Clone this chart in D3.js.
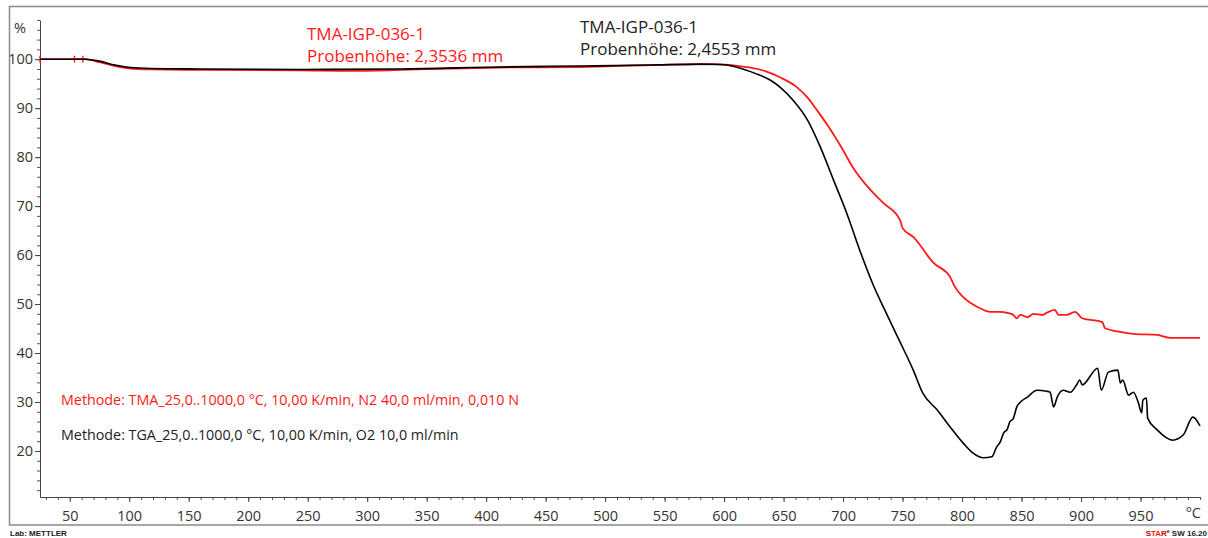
<!DOCTYPE html>
<html>
<head>
<meta charset="utf-8">
<script src="https://cdn.jsdelivr.net/npm/d3@7"></script>
<style>
  body { margin: 0; background: #fff; }
  svg { display: block; font-family: "Open Sans", "Noto Sans", sans-serif; }
</style>
</head>
<body>
<div id="chart"></div>
<script>
// TMA curve (red), temperature in °C, value in %
var redTemp = [25, 63, 75, 88, 101, 118, 160, 244, 286, 328, 370, 412, 479, 538, 591, 619, 634, 647, 660, 670, 678, 687, 700, 708, 723, 734, 748, 750, 759, 776, 790, 794, 801, 813, 824, 832, 838, 843, 846, 849, 855, 860, 868, 871, 878, 881, 888, 895, 901, 918, 920, 933, 944, 964, 975, 1000];
var redVal  = [100, 100, 99.4, 98.6, 98.1, 97.9, 97.8, 97.7, 97.6, 97.8, 98.1, 98.3, 98.4, 98.8, 99.0, 98.4, 97.6, 96.3, 94.5, 92.2, 89.6, 86.5, 81.4, 78.0, 73.3, 70.6, 67.1, 65.5, 63.7, 58.4, 55.5, 53.5, 51.4, 49.4, 48.4, 48.4, 48.2, 47.8, 47.1, 47.8, 47.3, 48.0, 47.8, 48.2, 48.8, 47.8, 47.8, 48.4, 47.1, 46.3, 45.1, 44.3, 43.9, 43.7, 43.1, 43.1];

// TGA curve (black)
var blackTemp = [25, 63, 75, 88, 101, 118, 160, 244, 328, 412, 479, 538, 580, 597, 613, 626, 639, 647, 658, 670, 681, 692, 703, 714, 725, 735, 745, 759, 767, 779, 790, 801, 809, 818, 825, 829, 832, 835, 838, 840, 843, 846, 850, 855, 863, 871, 874, 877, 880, 885, 891, 896, 899, 901, 914, 917, 923, 931, 933, 935, 940, 944, 948, 951, 952, 955, 956, 964, 977, 986, 994, 1000];
var blackVal  = [100, 100, 99.6, 98.8, 98.3, 98.1, 98.0, 97.9, 98.0, 98.4, 98.6, 98.8, 99.0, 98.9, 98.2, 97.1, 95.7, 94.3, 91.6, 87.6, 82.0, 75.3, 68.6, 61.0, 54.1, 48.8, 43.7, 36.5, 31.8, 28.4, 24.9, 21.6, 19.6, 18.6, 18.8, 20.8, 21.8, 23.7, 24.4, 25.9, 26.6, 29.0, 30.2, 31.0, 32.4, 32.2, 32.0, 29.0, 31.0, 32.4, 32.0, 33.4, 34.5, 33.5, 36.9, 32.4, 36.1, 36.5, 33.9, 34.5, 31.4, 32.0, 30.0, 27.8, 30.4, 30.8, 26.7, 24.3, 22.2, 23.3, 26.9, 25.1];

// small red marks at the start of the TMA curve
var markTemp = [25, 54, 61];

var xMajor = d3.range(50, 1000, 50);
var xMinor = d3.range(30, 1001, 10);
var yMajor = d3.range(20, 101, 10);
var yMinor = d3.range(12, 109, 2);

var redText = ["TMA-IGP-036-1", "Probenhöhe: 2,3536 mm"];
var blackText = ["TMA-IGP-036-1", "Probenhöhe: 2,4553 mm"];
var redMethod = "Methode: TMA_25,0..1000,0 °C, 10,00 K/min, N2 40,0 ml/min, 0,010 N";
var blackMethod = "Methode: TGA_25,0..1000,0 °C, 10,00 K/min, O2 10,0 ml/min";

var W = 1208, H = 538;
var red = "#ff1a1a", ink = "#333";

var svg = d3.select("#chart").append("svg")
            .attr("width", W)
            .attr("height", H);

// outer frame
svg.append("rect")
   .attr("x", 9.5).attr("y", 6.5)
   .attr("width", 1210).attr("height", 518.5)
   .style("fill", "none")
   .style("stroke", "#8a8a8a")
   .style("stroke-width", 1.5);

var x = d3.scaleLinear().domain([25, 1000]).range([40, 1200]);
var y = d3.scaleLinear().domain([10.6, 108]).range([497, 20]);

// minor ticks
svg.append("g")
   .attr("transform", "translate(0,497)")
   .call(d3.axisBottom(x).tickValues(xMinor).tickSize(3).tickFormat(""))
   .call(function(g) { g.select(".domain").remove(); g.selectAll("line").style("stroke", "#555"); });
svg.append("g")
   .attr("transform", "translate(40,0)")
   .call(d3.axisLeft(y).tickValues(yMinor).tickSize(3).tickFormat(""))
   .call(function(g) { g.select(".domain").remove(); g.selectAll("line").style("stroke", "#555"); });

// major ticks + labels
var xAxis = svg.append("g")
   .attr("transform", "translate(0,497)")
   .call(d3.axisBottom(x).tickValues(xMajor).tickSize(5).tickSizeOuter(0).tickPadding(6));
var yAxis = svg.append("g")
   .attr("transform", "translate(40,0)")
   .call(d3.axisLeft(y).tickValues(yMajor).tickSize(5).tickSizeOuter(0).tickPadding(2));

[xAxis, yAxis].forEach(function(a) {
    a.select(".domain").style("stroke", "#444");
    a.selectAll("line").style("stroke", "#444");
    a.selectAll("text")
     .style("font-family", "'Open Sans', sans-serif")
     .style("font-size", "14.5px")
     .style("fill", ink);
});
xAxis.selectAll("text").attr("dy", "0.9em");

svg.append("text")
   .attr("x", 1201).attr("y", 518)
   .attr("text-anchor", "end")
   .style("font-size", "14.5px").style("fill", ink)
   .text("°C");
svg.append("text")
   .attr("x", 20).attr("y", 33)
   .attr("text-anchor", "middle")
   .style("font-size", "14.5px").style("fill", ink)
   .text("%");

// curves
var line = d3.line()
             .curve(d3.curveMonotoneX)
             .x(function(d) { return x(d[0]); })
             .y(function(d) { return y(d[1]); });

svg.append("path")
   .datum(d3.zip(redTemp, redVal))
   .attr("d", line)
   .style("fill", "none")
   .style("stroke", red)
   .style("stroke-width", 1.8);

svg.selectAll(".mark")
   .data(markTemp)
   .enter().append("line")
   .attr("class", "mark")
   .attr("x1", function(d) { return x(d); })
   .attr("x2", function(d) { return x(d); })
   .attr("y1", y(100) - 3.5)
   .attr("y2", y(100) + 3.5)
   .style("stroke", red)
   .style("stroke-width", 1.3);

svg.append("path")
   .datum(d3.zip(blackTemp, blackVal))
   .attr("d", line)
   .style("fill", "none")
   .style("stroke", "#000")
   .style("stroke-width", 1.6);

// sample labels
function label(lines, px, py, color) {
    svg.append("g").selectAll("text")
       .data(lines)
       .enter().append("text")
       .attr("x", px)
       .attr("y", function(d, i) { return py + i * 22; })
       .style("font-size", "17px")
       .style("fill", color)
       .text(function(d) { return d; });
}
label(redText, 307, 40, red);
label(blackText, 580, 33, "#222");

svg.append("text")
   .attr("x", 61).attr("y", 405)
   .style("font-size", "14.3px").style("fill", red)
   .text(redMethod);
svg.append("text")
   .attr("x", 61).attr("y", 440)
   .style("font-size", "14.3px").style("fill", "#222")
   .text(blackMethod);

// footer
svg.append("text")
   .attr("x", 10).attr("y", 536)
   .style("font-family", "'Liberation Sans', Arial, sans-serif")
   .style("font-weight", "bold")
   .style("font-size", "8px")
   .style("fill", "#222")
   .text("Lab: METTLER");

var star = svg.append("text")
   .attr("x", 1207).attr("y", 536)
   .attr("text-anchor", "end")
   .style("font-family", "'Liberation Sans', Arial, sans-serif")
   .style("font-weight", "bold")
   .style("font-size", "8px")
   .style("fill", "#222");
star.append("tspan").style("fill", "#c00").text("S");
star.append("tspan").style("fill", red).text("TA");
star.append("tspan").style("fill", "#c00").text("R");
star.append("tspan").attr("dy", -3).style("font-size", "5px").text("e");
star.append("tspan").attr("dy", 3).text(" SW 16.20");
</script>
</body>
</html>
